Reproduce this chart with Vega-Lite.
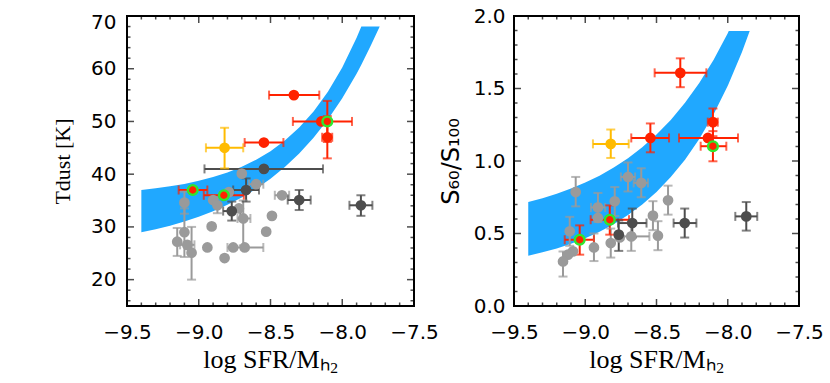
{
  "$schema": "https://vega.github.io/schema/vega-lite/v6.json",
  "background": "white",
  "padding": {"left": 50, "top": 5, "right": 5, "bottom": 5},
  "config": {
    "view": {"stroke": "black", "strokeWidth": 2},
    "axis": {"grid": false, "domain": false, "ticks": false, "labelColor": "black", "titleColor": "black", "labelFont": "DejaVu Sans", "labelFontSize": 20, "titleFontWeight": "normal", "labelOverlap": false}
  },
  "datasets": {
    "tx": [
      {"v": -9.5, "m": 1}, {"v": -9.4, "m": 0}, {"v": -9.3, "m": 0}, {"v": -9.2, "m": 0}, {"v": -9.1, "m": 0},
      {"v": -9.0, "m": 1}, {"v": -8.9, "m": 0}, {"v": -8.8, "m": 0}, {"v": -8.7, "m": 0}, {"v": -8.6, "m": 0},
      {"v": -8.5, "m": 1}, {"v": -8.4, "m": 0}, {"v": -8.3, "m": 0}, {"v": -8.2, "m": 0}, {"v": -8.1, "m": 0},
      {"v": -8.0, "m": 1}, {"v": -7.9, "m": 0}, {"v": -7.8, "m": 0}, {"v": -7.7, "m": 0}, {"v": -7.6, "m": 0},
      {"v": -7.5, "m": 1}
    ],
    "tyT": [
      {"v": 16, "m": 0}, {"v": 18, "m": 0}, {"v": 20, "m": 1}, {"v": 22, "m": 0}, {"v": 24, "m": 0}, {"v": 26, "m": 0}, {"v": 28, "m": 0},
      {"v": 30, "m": 1}, {"v": 32, "m": 0}, {"v": 34, "m": 0}, {"v": 36, "m": 0}, {"v": 38, "m": 0},
      {"v": 40, "m": 1}, {"v": 42, "m": 0}, {"v": 44, "m": 0}, {"v": 46, "m": 0}, {"v": 48, "m": 0},
      {"v": 50, "m": 1}, {"v": 52, "m": 0}, {"v": 54, "m": 0}, {"v": 56, "m": 0}, {"v": 58, "m": 0},
      {"v": 60, "m": 1}, {"v": 62, "m": 0}, {"v": 64, "m": 0}, {"v": 66, "m": 0}, {"v": 68, "m": 0},
      {"v": 70, "m": 1}
    ],
    "tyS": [
      {"v": 0.0, "m": 1}, {"v": 0.1, "m": 0}, {"v": 0.2, "m": 0}, {"v": 0.3, "m": 0}, {"v": 0.4, "m": 0},
      {"v": 0.5, "m": 1}, {"v": 0.6, "m": 0}, {"v": 0.7, "m": 0}, {"v": 0.8, "m": 0}, {"v": 0.9, "m": 0},
      {"v": 1.0, "m": 1}, {"v": 1.1, "m": 0}, {"v": 1.2, "m": 0}, {"v": 1.3, "m": 0}, {"v": 1.4, "m": 0},
      {"v": 1.5, "m": 1}, {"v": 1.6, "m": 0}, {"v": 1.7, "m": 0}, {"v": 1.8, "m": 0}, {"v": 1.9, "m": 0},
      {"v": 2.0, "m": 1}
    ],
    "bandT": [
      {"x": -9.4, "hi": 37.0, "lo": 29.0}, {"x": -9.3, "hi": 37.31, "lo": 29.57}, {"x": -9.2, "hi": 37.69, "lo": 30.24},
      {"x": -9.1, "hi": 38.16, "lo": 31.02}, {"x": -9.0, "hi": 38.74, "lo": 31.92}, {"x": -8.9, "hi": 39.45, "lo": 32.96},
      {"x": -8.8, "hi": 40.33, "lo": 34.18}, {"x": -8.7, "hi": 41.41, "lo": 35.59}, {"x": -8.6, "hi": 42.73, "lo": 37.23},
      {"x": -8.5, "hi": 44.37, "lo": 39.13}, {"x": -8.4, "hi": 46.37, "lo": 41.34}, {"x": -8.3, "hi": 48.84, "lo": 43.91},
      {"x": -8.2, "hi": 51.88, "lo": 46.89}, {"x": -8.1, "hi": 55.62, "lo": 50.35}, {"x": -8.0, "hi": 60.22, "lo": 54.38},
      {"x": -7.9, "hi": 65.88, "lo": 59.05}, {"x": -7.867, "hi": 68.0, "lo": 60.76}, {"x": -7.8, "hi": 68.0, "lo": 64.46},
      {"x": -7.739, "hi": 68.0, "lo": 68.0}
    ],
    "bandS": [
      {"x": -9.4, "hi": 0.717, "lo": 0.347}, {"x": -9.3, "hi": 0.743, "lo": 0.370}, {"x": -9.2, "hi": 0.774, "lo": 0.397},
      {"x": -9.1, "hi": 0.810, "lo": 0.429}, {"x": -9.0, "hi": 0.851, "lo": 0.467}, {"x": -8.9, "hi": 0.899, "lo": 0.512},
      {"x": -8.8, "hi": 0.955, "lo": 0.564}, {"x": -8.7, "hi": 1.019, "lo": 0.627}, {"x": -8.6, "hi": 1.094, "lo": 0.700},
      {"x": -8.5, "hi": 1.182, "lo": 0.786}, {"x": -8.4, "hi": 1.283, "lo": 0.889}, {"x": -8.3, "hi": 1.401, "lo": 1.009},
      {"x": -8.2, "hi": 1.538, "lo": 1.152}, {"x": -8.1, "hi": 1.697, "lo": 1.320}, {"x": -8.0, "hi": 1.881, "lo": 1.519},
      {"x": -7.993, "hi": 1.896, "lo": 1.534}, {"x": -7.9, "hi": 1.896, "lo": 1.752}, {"x": -7.846, "hi": 1.896, "lo": 1.896}
    ],
    "ptT": [
      {"x": -8.70, "y": 40.1, "c": "lg"},
      {"x": -8.60, "y": 38.1, "xlo": -8.65, "xhi": -8.55, "c": "lg"},
      {"x": -8.42, "y": 36.0, "xlo": -8.47, "xhi": -8.37, "c": "lg"},
      {"x": -9.10, "y": 34.6, "ylo": 32.5, "yhi": 36.7, "c": "lg"},
      {"x": -9.10, "y": 29.0, "ylo": 24.3, "yhi": 33.5, "c": "lg"},
      {"x": -9.15, "y": 27.2, "ylo": 24.5, "yhi": 29.8, "c": "lg"},
      {"x": -9.08, "y": 26.6, "xlo": -9.13, "xhi": -9.03, "c": "lg"},
      {"x": -9.05, "y": 25.1, "ylo": 20.0, "yhi": 30.0, "c": "lg"},
      {"x": -8.91, "y": 30.1, "c": "lg"},
      {"x": -8.94, "y": 26.1, "c": "lg"},
      {"x": -8.82, "y": 24.1, "c": "lg"},
      {"x": -8.76, "y": 26.1, "c": "lg"},
      {"x": -8.68, "y": 26.1, "xlo": -8.80, "xhi": -8.55, "c": "lg"},
      {"x": -8.69, "y": 31.6, "ylo": 26.5, "yhi": 35.0, "xlo": -8.73, "xhi": -8.64, "c": "lg"},
      {"x": -8.72, "y": 33.5, "c": "lg"},
      {"x": -8.49, "y": 32.1, "c": "lg"},
      {"x": -8.53, "y": 29.1, "c": "lg"},
      {"x": -8.90, "y": 35.1, "c": "lg"},
      {"x": -8.87, "y": 34.1, "ylo": 32.6, "yhi": 35.6, "c": "lg"},
      {"x": -8.79, "y": 36.6, "c": "lg"},
      {"x": -8.546, "y": 41.0, "xlo": -8.96, "xhi": -8.134, "c": "dg"},
      {"x": -8.67, "y": 37.0, "xlo": -8.76, "xhi": -8.58, "ylo": 34.8, "yhi": 39.2, "c": "dg"},
      {"x": -8.77, "y": 33.0, "xlo": -8.83, "xhi": -8.71, "ylo": 31.2, "yhi": 34.8, "c": "dg"},
      {"x": -8.30, "y": 35.1, "xlo": -8.38, "xhi": -8.22, "ylo": 33.2, "yhi": 37.0, "c": "dg"},
      {"x": -7.87, "y": 34.1, "xlo": -7.95, "xhi": -7.79, "ylo": 32.1, "yhi": 36.0, "c": "dg"},
      {"x": -8.82, "y": 45.0, "xlo": -8.95, "xhi": -8.69, "ylo": 41.1, "yhi": 48.8, "c": "or"},
      {"x": -8.337, "y": 55.0, "xlo": -8.51, "xhi": -8.16, "c": "rd"},
      {"x": -8.146, "y": 50.0, "xlo": -8.344, "xhi": -7.932, "c": "rd"},
      {"x": -8.546, "y": 46.0, "xlo": -8.68, "xhi": -8.41, "c": "rd"},
      {"x": -8.104, "y": 47.0, "xlo": -8.14, "xhi": -8.07, "ylo": 43.0, "yhi": 51.0, "c": "rd"},
      {"x": -9.042, "y": 37.0, "xlo": -9.14, "xhi": -8.94, "c": "rd", "ring": true},
      {"x": -8.825, "y": 36.0, "xlo": -8.965, "xhi": -8.686, "c": "rd", "ring": true},
      {"x": -8.104, "y": 50.0, "ylo": 46.1, "yhi": 53.9, "c": "rd", "ring": true}
    ],
    "ptS": [
      {"x": -9.067, "y": 0.786, "ylo": 0.687, "yhi": 0.890, "c": "lg"},
      {"x": -8.70, "y": 0.890, "xlo": -8.75, "xhi": -8.65, "ylo": 0.79, "yhi": 0.99, "c": "lg"},
      {"x": -8.607, "y": 0.849, "xlo": -8.66, "xhi": -8.56, "ylo": 0.75, "yhi": 0.95, "c": "lg"},
      {"x": -8.419, "y": 0.729, "ylo": 0.63, "yhi": 0.83, "c": "lg"},
      {"x": -8.793, "y": 0.722, "ylo": 0.62, "yhi": 0.82, "c": "lg"},
      {"x": -8.911, "y": 0.680, "xlo": -8.96, "xhi": -8.86, "ylo": 0.58, "yhi": 0.78, "c": "lg"},
      {"x": -8.911, "y": 0.607, "c": "lg"},
      {"x": -9.109, "y": 0.515, "ylo": 0.415, "yhi": 0.615, "c": "lg"},
      {"x": -8.525, "y": 0.623, "ylo": 0.523, "yhi": 0.723, "c": "lg"},
      {"x": -8.49, "y": 0.485, "ylo": 0.385, "yhi": 0.585, "c": "lg"},
      {"x": -8.677, "y": 0.480, "xlo": -8.74, "xhi": -8.55, "ylo": 0.38, "yhi": 0.58, "c": "lg"},
      {"x": -8.758, "y": 0.473, "c": "lg"},
      {"x": -8.821, "y": 0.434, "ylo": 0.334, "yhi": 0.534, "c": "lg"},
      {"x": -8.939, "y": 0.404, "ylo": 0.31, "yhi": 0.50, "c": "lg"},
      {"x": -9.086, "y": 0.377, "c": "lg"},
      {"x": -9.121, "y": 0.354, "c": "lg"},
      {"x": -9.156, "y": 0.307, "ylo": 0.203, "yhi": 0.376, "c": "lg"},
      {"x": -7.870, "y": 0.618, "xlo": -7.947, "xhi": -7.793, "ylo": 0.520, "yhi": 0.717, "c": "dg"},
      {"x": -8.302, "y": 0.572, "xlo": -8.38, "xhi": -8.22, "ylo": 0.472, "yhi": 0.672, "c": "dg"},
      {"x": -8.670, "y": 0.572, "xlo": -8.77, "xhi": -8.57, "ylo": 0.472, "yhi": 0.672, "c": "dg"},
      {"x": -8.765, "y": 0.492, "ylo": 0.38, "yhi": 0.59, "c": "dg"},
      {"x": -8.821, "y": 1.118, "xlo": -8.946, "xhi": -8.695, "ylo": 1.021, "yhi": 1.217, "c": "or"},
      {"x": -8.333, "y": 1.608, "xlo": -8.513, "xhi": -8.150, "ylo": 1.509, "yhi": 1.708, "c": "rd"},
      {"x": -8.104, "y": 1.268, "xlo": -8.14, "xhi": -8.07, "ylo": 1.171, "yhi": 1.362, "c": "rd"},
      {"x": -8.139, "y": 1.159, "xlo": -8.342, "xhi": -7.928, "c": "rd"},
      {"x": -8.543, "y": 1.159, "xlo": -8.677, "xhi": -8.412, "ylo": 1.060, "yhi": 1.259, "c": "rd"},
      {"x": -8.104, "y": 1.102, "xlo": -8.19, "xhi": -8.01, "ylo": 0.998, "yhi": 1.206, "c": "rd", "ring": true},
      {"x": -8.828, "y": 0.595, "xlo": -8.962, "xhi": -8.693, "ylo": 0.492, "yhi": 0.694, "c": "rd", "ring": true},
      {"x": -9.039, "y": 0.457, "xlo": -9.144, "xhi": -8.939, "ylo": 0.354, "yhi": 0.556, "c": "rd", "ring": true}
    ]
  },
  "hconcat": [
    {
      "width": 287, "height": 290,
      "layer": [
        {
          "data": {"name": "bandT"},
          "mark": {"type": "area", "color": "#20a8ff", "opacity": 1, "clip": true},
          "encoding": {
            "x": {"field": "x", "type": "quantitative", "scale": {"domain": [-9.5, -7.5], "nice": false, "zero": false},
              "axis": {"orient": "bottom", "values": [-9.5, -9.0, -8.5, -8.0, -7.5],
                "labelExpr": "replace(format(datum.value,'.1f'),'-','\u2212')",
                "labelPadding": 16, "labelFlush": false,
                "title": "log SFR/M\u2095\u2082", "titleFont": "Liberation Serif", "titleFontSize": 26, "titlePadding": 4}},
            "y": {"field": "hi", "type": "quantitative", "scale": {"domain": [15, 70], "nice": false, "zero": false},
              "axis": {"orient": "left", "values": [20, 30, 40, 50, 60, 70],
                "labelPadding": 11, "labelFlush": true, "labelFlushOffset": 4,
                "title": "Tdust [K]", "titleFont": "Liberation Serif", "titleFontSize": 22, "titlePadding": 16}},
            "y2": {"field": "lo"}
          }
        },
        {"data": {"name": "tx"}, "transform": [{"filter": "datum.m == 1"}],
          "mark": {"type": "tick", "orient": "vertical", "size": 14, "thickness": 1.5, "color": "black", "clip": true},
          "encoding": {"x": {"field": "v", "type": "quantitative"}, "y": {"value": "height"}}},
        {"data": {"name": "tx"}, "transform": [{"filter": "datum.m == 0"}],
          "mark": {"type": "tick", "orient": "vertical", "size": 7, "thickness": 1.5, "color": "black", "clip": true},
          "encoding": {"x": {"field": "v", "type": "quantitative"}, "y": {"value": "height"}}},
        {"data": {"name": "tx"}, "transform": [{"filter": "datum.m == 1"}],
          "mark": {"type": "tick", "orient": "vertical", "size": 14, "thickness": 1.5, "color": "black", "clip": true},
          "encoding": {"x": {"field": "v", "type": "quantitative"}, "y": {"value": 0}}},
        {"data": {"name": "tx"}, "transform": [{"filter": "datum.m == 0"}],
          "mark": {"type": "tick", "orient": "vertical", "size": 7, "thickness": 1.5, "color": "black", "clip": true},
          "encoding": {"x": {"field": "v", "type": "quantitative"}, "y": {"value": 0}}},
        {"data": {"name": "tyT"}, "transform": [{"filter": "datum.m == 1"}],
          "mark": {"type": "tick", "orient": "horizontal", "size": 14, "thickness": 1.5, "color": "black", "clip": true},
          "encoding": {"y": {"field": "v", "type": "quantitative"}, "x": {"value": 0}}},
        {"data": {"name": "tyT"}, "transform": [{"filter": "datum.m == 0"}],
          "mark": {"type": "tick", "orient": "horizontal", "size": 7, "thickness": 1.5, "color": "black", "clip": true},
          "encoding": {"y": {"field": "v", "type": "quantitative"}, "x": {"value": 0}}},
        {"data": {"name": "tyT"}, "transform": [{"filter": "datum.m == 1"}],
          "mark": {"type": "tick", "orient": "horizontal", "size": 14, "thickness": 1.5, "color": "black", "clip": true},
          "encoding": {"y": {"field": "v", "type": "quantitative"}, "x": {"value": "width"}}},
        {"data": {"name": "tyT"}, "transform": [{"filter": "datum.m == 0"}],
          "mark": {"type": "tick", "orient": "horizontal", "size": 7, "thickness": 1.5, "color": "black", "clip": true},
          "encoding": {"y": {"field": "v", "type": "quantitative"}, "x": {"value": "width"}}},
        {
          "data": {"name": "ptT"},
          "transform": [{"filter": "isValid(datum.xlo)"}],
          "mark": {"type": "rule", "strokeWidth": 2, "clip": true},
          "encoding": {
            "x": {"field": "xlo", "type": "quantitative"},
            "x2": {"field": "xhi"},
            "y": {"field": "y", "type": "quantitative"},
            "color": {"field": "c", "type": "nominal", "scale": {"domain": ["lg", "dg", "or", "rd"], "range": ["#9a9a9a", "#4d4d4d", "#ffbb00", "#ff2200"]}, "legend": null}
          }
        },
        {
          "data": {"name": "ptT"},
          "transform": [{"filter": "isValid(datum.ylo)"}],
          "mark": {"type": "rule", "strokeWidth": 2, "clip": true},
          "encoding": {
            "x": {"field": "x", "type": "quantitative"},
            "y": {"field": "ylo", "type": "quantitative"},
            "y2": {"field": "yhi"},
            "color": {"field": "c", "type": "nominal", "legend": null}
          }
        },
        {
          "data": {"name": "ptT"},
          "transform": [{"filter": "isValid(datum.xlo)"}, {"fold": ["xlo", "xhi"], "as": ["k", "v"]}],
          "mark": {"type": "tick", "orient": "vertical", "size": 9, "thickness": 2, "clip": true},
          "encoding": {
            "x": {"field": "v", "type": "quantitative"},
            "y": {"field": "y", "type": "quantitative"},
            "color": {"field": "c", "type": "nominal", "legend": null}
          }
        },
        {
          "data": {"name": "ptT"},
          "transform": [{"filter": "isValid(datum.ylo)"}, {"fold": ["ylo", "yhi"], "as": ["k", "v"]}],
          "mark": {"type": "tick", "orient": "horizontal", "size": 9, "thickness": 2, "clip": true},
          "encoding": {
            "x": {"field": "x", "type": "quantitative"},
            "y": {"field": "v", "type": "quantitative"},
            "color": {"field": "c", "type": "nominal", "legend": null}
          }
        },
        {
          "data": {"name": "ptT"},
          "mark": {"type": "point", "shape": "circle", "filled": true, "opacity": 1, "size": 115},
          "encoding": {
            "x": {"field": "x", "type": "quantitative"},
            "y": {"field": "y", "type": "quantitative"},
            "color": {"field": "c", "type": "nominal", "legend": null}
          }
        },
        {
          "data": {"name": "ptT"},
          "transform": [{"filter": "datum.ring === true"}],
          "mark": {"type": "point", "shape": "circle", "filled": false, "opacity": 1, "size": 95, "strokeWidth": 2.4, "color": "#2ee82e"},
          "encoding": {
            "x": {"field": "x", "type": "quantitative"},
            "y": {"field": "y", "type": "quantitative"}
          }
        }
      ]
    },
    {
      "width": 285, "height": 290,
      "layer": [
        {
          "data": {"name": "bandS"},
          "mark": {"type": "area", "color": "#20a8ff", "opacity": 1, "clip": true},
          "encoding": {
            "x": {"field": "x", "type": "quantitative", "scale": {"domain": [-9.5, -7.5], "nice": false, "zero": false},
              "axis": {"orient": "bottom", "values": [-9.5, -9.0, -8.5, -8.0, -7.5],
                "labelExpr": "replace(format(datum.value,'.1f'),'-','\u2212')",
                "labelPadding": 16, "labelFlush": false,
                "title": "log SFR/M\u2095\u2082", "titleFont": "Liberation Serif", "titleFontSize": 26, "titlePadding": 4}},
            "y": {"field": "hi", "type": "quantitative", "scale": {"domain": [0, 2], "nice": false, "zero": false},
              "axis": {"orient": "left", "values": [0, 0.5, 1.0, 1.5, 2.0], "format": ".1f",
                "labelPadding": 9, "labelFlush": false,
                "title": "S\u2086\u2080/S\u2081\u2080\u2080", "titleFont": "DejaVu Sans", "titleFontSize": 24, "titlePadding": 10}},
            "y2": {"field": "lo"}
          }
        },
        {"data": {"name": "tx"}, "transform": [{"filter": "datum.m == 1"}],
          "mark": {"type": "tick", "orient": "vertical", "size": 14, "thickness": 1.5, "color": "black", "clip": true},
          "encoding": {"x": {"field": "v", "type": "quantitative"}, "y": {"value": "height"}}},
        {"data": {"name": "tx"}, "transform": [{"filter": "datum.m == 0"}],
          "mark": {"type": "tick", "orient": "vertical", "size": 7, "thickness": 1.5, "color": "black", "clip": true},
          "encoding": {"x": {"field": "v", "type": "quantitative"}, "y": {"value": "height"}}},
        {"data": {"name": "tx"}, "transform": [{"filter": "datum.m == 1"}],
          "mark": {"type": "tick", "orient": "vertical", "size": 14, "thickness": 1.5, "color": "black", "clip": true},
          "encoding": {"x": {"field": "v", "type": "quantitative"}, "y": {"value": 0}}},
        {"data": {"name": "tx"}, "transform": [{"filter": "datum.m == 0"}],
          "mark": {"type": "tick", "orient": "vertical", "size": 7, "thickness": 1.5, "color": "black", "clip": true},
          "encoding": {"x": {"field": "v", "type": "quantitative"}, "y": {"value": 0}}},
        {"data": {"name": "tyS"}, "transform": [{"filter": "datum.m == 1"}],
          "mark": {"type": "tick", "orient": "horizontal", "size": 14, "thickness": 1.5, "color": "black", "clip": true},
          "encoding": {"y": {"field": "v", "type": "quantitative"}, "x": {"value": 0}}},
        {"data": {"name": "tyS"}, "transform": [{"filter": "datum.m == 0"}],
          "mark": {"type": "tick", "orient": "horizontal", "size": 7, "thickness": 1.5, "color": "black", "clip": true},
          "encoding": {"y": {"field": "v", "type": "quantitative"}, "x": {"value": 0}}},
        {"data": {"name": "tyS"}, "transform": [{"filter": "datum.m == 1"}],
          "mark": {"type": "tick", "orient": "horizontal", "size": 14, "thickness": 1.5, "color": "black", "clip": true},
          "encoding": {"y": {"field": "v", "type": "quantitative"}, "x": {"value": "width"}}},
        {"data": {"name": "tyS"}, "transform": [{"filter": "datum.m == 0"}],
          "mark": {"type": "tick", "orient": "horizontal", "size": 7, "thickness": 1.5, "color": "black", "clip": true},
          "encoding": {"y": {"field": "v", "type": "quantitative"}, "x": {"value": "width"}}},
        {
          "data": {"name": "ptS"},
          "transform": [{"filter": "isValid(datum.xlo)"}],
          "mark": {"type": "rule", "strokeWidth": 2, "clip": true},
          "encoding": {
            "x": {"field": "xlo", "type": "quantitative"},
            "x2": {"field": "xhi"},
            "y": {"field": "y", "type": "quantitative"},
            "color": {"field": "c", "type": "nominal", "legend": null}
          }
        },
        {
          "data": {"name": "ptS"},
          "transform": [{"filter": "isValid(datum.ylo)"}],
          "mark": {"type": "rule", "strokeWidth": 2, "clip": true},
          "encoding": {
            "x": {"field": "x", "type": "quantitative"},
            "y": {"field": "ylo", "type": "quantitative"},
            "y2": {"field": "yhi"},
            "color": {"field": "c", "type": "nominal", "legend": null}
          }
        },
        {
          "data": {"name": "ptS"},
          "transform": [{"filter": "isValid(datum.xlo)"}, {"fold": ["xlo", "xhi"], "as": ["k", "v"]}],
          "mark": {"type": "tick", "orient": "vertical", "size": 9, "thickness": 2, "clip": true},
          "encoding": {
            "x": {"field": "v", "type": "quantitative"},
            "y": {"field": "y", "type": "quantitative"},
            "color": {"field": "c", "type": "nominal", "legend": null}
          }
        },
        {
          "data": {"name": "ptS"},
          "transform": [{"filter": "isValid(datum.ylo)"}, {"fold": ["ylo", "yhi"], "as": ["k", "v"]}],
          "mark": {"type": "tick", "orient": "horizontal", "size": 9, "thickness": 2, "clip": true},
          "encoding": {
            "x": {"field": "x", "type": "quantitative"},
            "y": {"field": "v", "type": "quantitative"},
            "color": {"field": "c", "type": "nominal", "legend": null}
          }
        },
        {
          "data": {"name": "ptS"},
          "mark": {"type": "point", "shape": "circle", "filled": true, "opacity": 1, "size": 115},
          "encoding": {
            "x": {"field": "x", "type": "quantitative"},
            "y": {"field": "y", "type": "quantitative"},
            "color": {"field": "c", "type": "nominal", "legend": null}
          }
        },
        {
          "data": {"name": "ptS"},
          "transform": [{"filter": "datum.ring === true"}],
          "mark": {"type": "point", "shape": "circle", "filled": false, "opacity": 1, "size": 95, "strokeWidth": 2.4, "color": "#2ee82e"},
          "encoding": {
            "x": {"field": "x", "type": "quantitative"},
            "y": {"field": "y", "type": "quantitative"}
          }
        }
      ]
    }
  ],
  "spacing": 100,
  "bounds": "flush"
}
